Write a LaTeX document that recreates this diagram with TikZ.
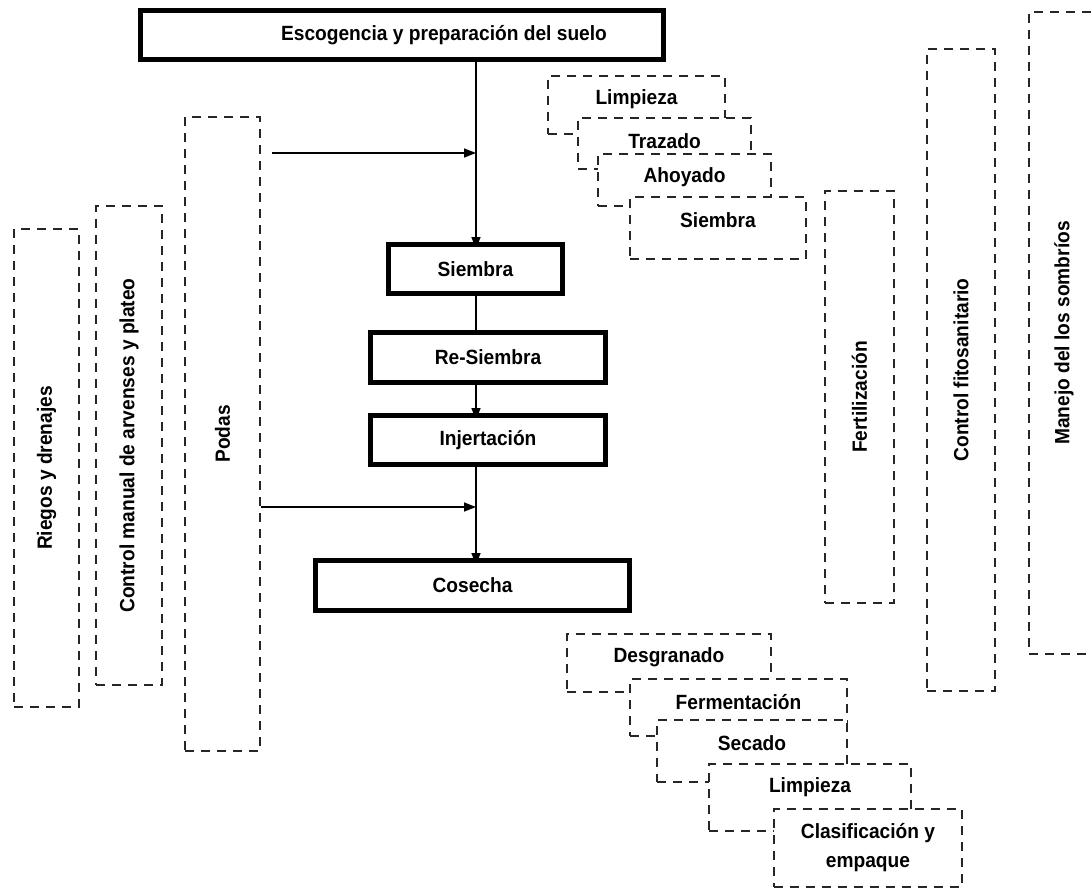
\documentclass[tikz,border=0pt]{standalone}
\usepackage{fontspec}
\usepackage{graphicx}
\setmainfont{Liberation Sans}[FakeStretch=0.93]
\usetikzlibrary{arrows.meta,backgrounds}
\begin{document}
\begin{tikzpicture}[x=1pt,y=-1pt,
  font=\fontsize{20.6}{29}\selectfont\bfseries,
  sbox/.style={draw, line width=5pt, fill=white, inner sep=0pt},
  dbox/.style={draw=black!85, line width=2.3pt, dash pattern=on 9pt off 7pt, fill=white, inner sep=0pt},
  conn/.style={line width=1.5pt},
  arr/.style={conn, -{Triangle[length=12pt,width=9pt]}},
  inarr/.style={arr, shorten >=-7pt},
  toptxt/.style={anchor=center, yshift=-24pt}
]
\clip (0,0) rectangle (1092,896);

% main flow
\node[sbox, minimum width=523pt, minimum height=49pt,
      label={[xshift=42pt]center:Escogencia y preparación del suelo}] (top) at (402,35) {};
\node[sbox, minimum width=174pt, minimum height=49pt] (siembra) at (475.5,269) {Siembra};
\node[sbox, minimum width=235pt, minimum height=50pt] (resiembra) at (488,357.5) {Re-Siembra};
\node[sbox, minimum width=235pt, minimum height=49pt] (injert) at (488,440) {Injertación};
\node[sbox, minimum width=314pt, minimum height=50pt] (cosecha) at (472.5,585.5) {Cosecha};

\coordinate (sp) at (476,0);
\coordinate (j1) at (476,153);
\coordinate (j2) at (476,507);

% left dashed boxes
\node[dbox, minimum width=65pt, minimum height=478pt] (riegos) at (46.5,468) {\rotatebox{90}{Riegos y drenajes}};
\node[dbox, minimum width=66pt, minimum height=479pt] (ctrlman) at (129,445.5) {\rotatebox{90}{Control manual de arvenses y plateo}};
\node[dbox, minimum width=75pt, minimum height=634pt] (podas) at (222.5,434) {\rotatebox{90}{Podas}};

% right dashed boxes
\node[dbox, minimum width=69pt, minimum height=412pt] (fert) at (859.5,397) {\rotatebox{90}{Fertilización}};
\node[dbox, minimum width=68pt, minimum height=642pt] (fito) at (961,370) {\rotatebox{90}{Control fitosanitario}};
\node[dbox, minimum width=70pt, minimum height=642pt] (manejo) at (1064,333) {\rotatebox{90}{Manejo del los sombríos}};

% top cascade
\node[dbox, minimum width=177pt, minimum height=58pt, label={[toptxt]north:Limpieza}] (lim1) at (636.5,105) {};
\node[dbox, minimum width=173pt, minimum height=51pt, label={[toptxt]north:Trazado}] (traz) at (664.5,143.5) {};
\node[dbox, minimum width=173pt, minimum height=52pt, label={[toptxt]north:Ahoyado}] (ahoy) at (684.5,180) {};
\node[dbox, minimum width=176pt, minimum height=62pt, label={[toptxt]north:Siembra}] (siem2) at (718,228) {};

% bottom cascade
\node[dbox, minimum width=204pt, minimum height=58pt, label={[toptxt]north:Desgranado}] (desg) at (669,663) {};
\node[dbox, minimum width=217pt, minimum height=57pt, label={[toptxt]north:Fermentación}] (ferm) at (738.5,707.5) {};
\node[dbox, minimum width=190pt, minimum height=62pt, label={[toptxt]north:Secado}] (seca) at (752,751) {};
\node[dbox, minimum width=202pt, minimum height=67pt, label={[toptxt]north:Limpieza}] (lim2) at (810,797.5) {};
\node[dbox, minimum width=188pt, minimum height=78pt, align=center] (clas) at (868,848) {Clasificación y\\empaque};

% connectors (behind the boxes)
\begin{scope}[on background layer]
\fill[white] (0,0) rectangle (1092,896);
\draw[inarr] (top.south -| sp) -- (siembra.north -| sp);
\draw[conn] (siembra.south -| sp) -- (resiembra.north -| sp);
\draw[inarr] (resiembra.south -| sp) -- (injert.north -| sp);
\draw[inarr] (injert.south -| sp) -- (cosecha.north -| sp);
\draw[arr] ([xshift=11pt]podas.east |- j1) -- (j1);
\draw[arr] (podas.east |- j2) -- (j2);
\end{scope}
\end{tikzpicture}
\end{document}
